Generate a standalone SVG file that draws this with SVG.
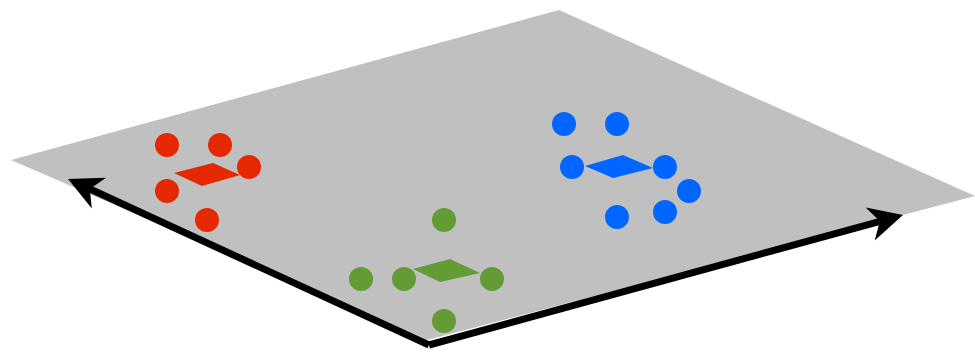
<svg xmlns="http://www.w3.org/2000/svg" width="975" height="354" viewBox="0 0 975 354">
  <style>
    .plane { fill: #c0c0c0; }
    .axis { fill: none; stroke: #000; stroke-width: 7; stroke-linejoin: miter; marker-end: url(#head); }
    .red { fill: #e52800; }
    .green { fill: #639b35; }
    .blue { fill: #0066ff; }
  </style>
  <defs>
    <!-- barbed arrowhead; line ends 20px behind the tip -->
    <marker id="head" markerUnits="userSpaceOnUse" viewBox="-20 -20 45 40" markerWidth="45" markerHeight="40" refX="0" refY="0" orient="auto" overflow="visible">
      <path d="M20,0 L-14,-17 L-4,0 L-14,17 Z" fill="#000"/>
    </marker>
  </defs>

  <!-- ground plane -->
  <polygon class="plane" points="11,160 559,10 975,196 427,340"/>

  <!-- axes -->
  <g id="connectors">
    <path class="axis" d="M429,345 L86.2,187.3"/>
    <path class="axis" d="M429,345 L883.7,220.3"/>
  </g>

  <!-- red cluster -->
  <g id="red-cluster">
    <polygon class="red" points="174,173 213,163 240,175 202,186"/>
    <circle class="red" cx="167" cy="145" r="12"/>
    <circle class="red" cx="220" cy="145" r="12"/>
    <circle class="red" cx="249" cy="167" r="12"/>
    <circle class="red" cx="167" cy="191" r="12"/>
    <circle class="red" cx="207" cy="220" r="12"/>
  </g>

  <!-- green cluster -->
  <g id="green-cluster">
    <polygon class="green" points="413,269 450,259 480,273 440,282"/>
    <circle class="green" cx="444" cy="220" r="12"/>
    <circle class="green" cx="361" cy="279" r="12"/>
    <circle class="green" cx="404" cy="279" r="12"/>
    <circle class="green" cx="492" cy="279" r="12"/>
    <circle class="green" cx="444" cy="321" r="12"/>
  </g>

  <!-- blue cluster -->
  <g id="blue-cluster">
    <polygon class="blue" points="585,166 623,155 653,168 613,178"/>
    <circle class="blue" cx="564" cy="124" r="12"/>
    <circle class="blue" cx="617" cy="124" r="12"/>
    <circle class="blue" cx="572" cy="167" r="12"/>
    <circle class="blue" cx="665" cy="167" r="12"/>
    <circle class="blue" cx="689" cy="191" r="12"/>
    <circle class="blue" cx="665" cy="212" r="12"/>
    <circle class="blue" cx="617" cy="217" r="12"/>
  </g>
</svg>
